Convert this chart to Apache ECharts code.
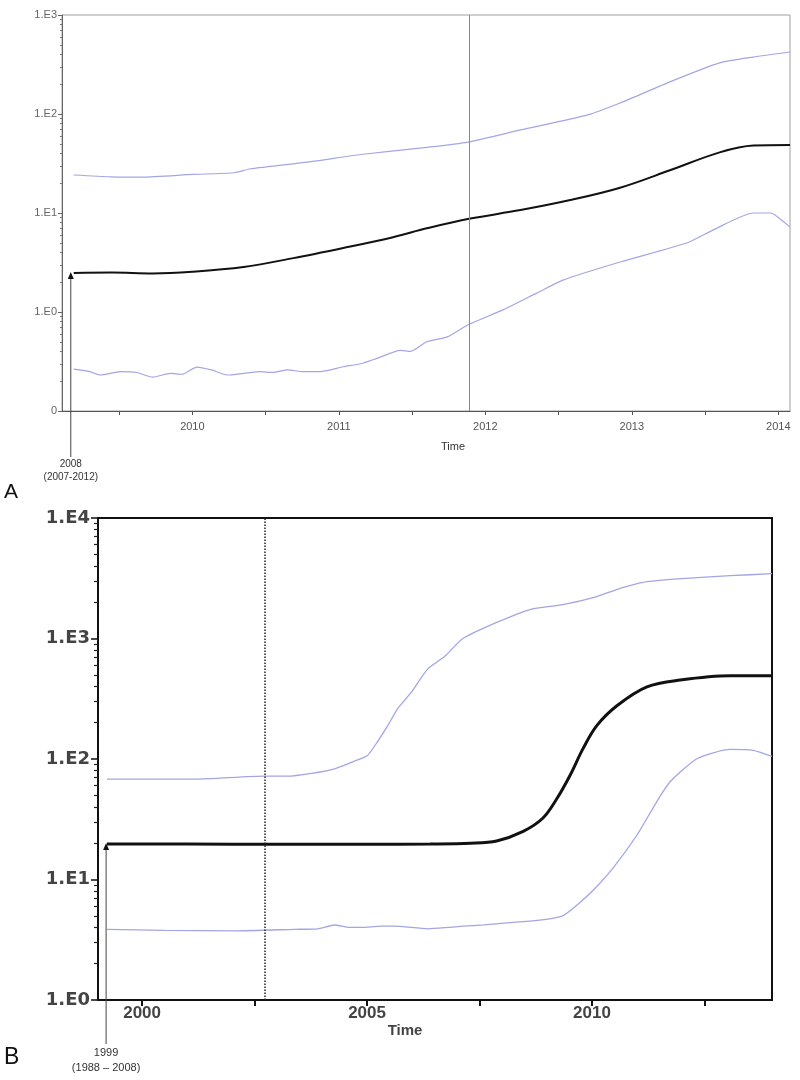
<!DOCTYPE html>
<html><head><meta charset="utf-8">
<script src="https://cdn.jsdelivr.net/npm/echarts@6/dist/echarts.min.js"></script>
<style>html,body{margin:0;padding:0;background:#fff}#c{width:800px;height:1080px}</style>
</head><body><div id="c"></div>
<script>
// ---------- Panel A data ----------
const aMeanT  = [2009.19,2009.45,2009.73,2010.0,2010.35,2010.69,2011.03,2011.37,2011.6,2011.88,2012.24,2012.58,2012.92,2013.26,2013.6,2013.83,2014.08];
const aMeanV  = [2.48,2.5,2.45,2.55,2.85,3.5,4.43,5.7,7.0,8.7,10.7,13.5,18,27,41,48,48.6];
const aUpperT = [2009.19,2009.44,2009.66,2010.0,2010.28,2010.4,2010.81,2011.15,2011.6,2011.88,2012.24,2012.7,2012.92,2013.26,2013.6,2013.83,2014.08];
const aUpperV = [24.2,23.2,23,24.5,25.5,28,33,39,46,52,69,98,129,211,328,376,423];
const aLowerT = [2009.19,2009.3,2009.37,2009.51,2009.62,2009.73,2009.85,2009.93,2010.03,2010.13,2010.24,2010.35,2010.46,2010.55,2010.65,2010.75,2010.87,2011.03,2011.15,2011.26,2011.42,2011.49,2011.6,2011.74,2011.88,2012.12,2012.35,2012.53,2012.92,2013.38,2013.56,2013.83,2013.95,2014.03,2014.08];
const aLowerV = [0.265,0.25,0.231,0.25,0.245,0.22,0.24,0.235,0.278,0.26,0.231,0.24,0.25,0.245,0.26,0.25,0.25,0.28,0.3,0.34,0.41,0.40,0.5,0.56,0.74,1.05,1.55,2.1,3.2,5.0,6.8,10,10,8.3,7.2];
const aXTicks  = [2009.5,2010,2010.5,2011,2011.5,2012,2012.5,2013,2013.5,2014];
const aXLabels = [2010,2011,2012,2013,2014];
const aYMajor  = [0.1,1,10,100,1000];
const aMarker  = [2009.17, 2.48];
const aMarkerLabel = '2008\n(2007-2012)';
const aDivider = 2011.89;

// ---------- Panel B data ----------
const bMeanT  = [1999.22,2001,2003,2005,2006.4,2007.3,2007.88,2008.47,2008.91,2009.22,2009.51,2009.8,2010.11,2010.56,2011.22,2011.96,2013.07,2014.0];
const bMeanV  = [19.7,19.7,19.6,19.6,19.7,20,20.9,25.1,32.4,47,73,122,190,278,397,452,490,490];
const bUpperT = [1999.22,2001.16,2002.72,2003.23,2003.76,2004.28,2004.72,2005.01,2005.23,2005.46,2005.68,2005.99,2006.35,2006.73,2007.13,2007.88,2008.62,2009.35,2010.11,2010.56,2011.22,2012.34,2013.07,2014.0];
const bUpperV = [68,68,72,72,76,83,96,107,139,189,262,361,560,713,1000,1360,1740,1910,2230,2560,2960,3200,3320,3450];
const bLowerT = [1999.22,2000.5,2002.05,2003.39,2003.9,2004.28,2004.6,2004.88,2005.3,2005.61,2006.35,2006.8,2007.13,2007.6,2008.24,2008.84,2009.35,2009.66,2010.02,2010.47,2011.0,2011.45,2011.74,2012.34,2013.07,2013.58,2014.0];
const bLowerV = [3.86,3.78,3.75,3.86,3.9,4.19,4.0,4.0,4.1,4.1,3.9,4.0,4.1,4.2,4.4,4.6,5.0,6.1,8.1,12.5,23.4,45,65,101,120,118,105];
const bXTicks  = [2000,2002.5,2005,2007.5,2010,2012.5];
const bXLabels = [2000,2005,2010];
const bYMajor  = [1,10,100,1000,10000];
const bMarker  = [1999.2, 19.7];
const bMarkerLabel = '1999\n(1988 – 2008)';
const bDivider = 2002.72;

// ---------- helpers ----------
const pairs = (T, V) => T.map((t, i) => [t, V[i]]);
const minorLog = (major) => { const out = []; for (let i = 0; i < major.length - 1; i++) for (let k = 2; k <= 9; k++) out.push(major[i] * k); return out; };
const FONT = 'Liberation Sans';
const BLUE = '#a2a6e4';

function markerSeries(xi, yi, pt, label, fontSize, below, lh) {
  return {
    type: 'custom', xAxisIndex: xi, yAxisIndex: yi, clip: false, silent: true, z: 5,
    data: [pt], encode: {x: 0, y: 1},
    renderItem: function (params, api) {
      const p = api.coord([api.value(0), api.value(1)]);
      const cs = params.coordSys;
      const yb = cs.y + cs.height + below;
      return {type: 'group', children: [
        {type: 'line', shape: {x1: p[0], y1: yb, x2: p[0], y2: p[1] + 5}, style: {stroke: '#444', lineWidth: 1}},
        {type: 'polygon', shape: {points: [[p[0], p[1] - 1], [p[0] - 3, p[1] + 6], [p[0] + 3, p[1] + 6]]}, style: {fill: '#111'}},
        {type: 'text', style: {text: label, x: p[0], y: yb + 1, align: 'center', verticalAlign: 'top', fontSize: fontSize, lineHeight: lh, fill: '#333', fontFamily: FONT}}
      ]};
    }
  };
}

const chart = echarts.init(document.getElementById('c'), null, {renderer: 'canvas'});
chart.setOption({
  animation: false,
  backgroundColor: '#fff',
  graphic: [
    {type: 'text', left: 4, top: 482, style: {text: 'A', fontSize: 21, fill: '#111', fontFamily: FONT}},
    {type: 'text', left: 4, top: 1046, style: {text: 'B', fontSize: 23, fill: '#111', fontFamily: FONT}}
  ],
  grid: [
    {left: 62, top: 15, width: 728, height: 396, show: true, borderColor: '#a0a0a0', borderWidth: 1, containLabel: false},
    {left: 98, top: 518, width: 674, height: 482, show: true, borderColor: '#111', borderWidth: 2, containLabel: false}
  ],
  xAxis: [
    {type: 'value', gridIndex: 0, min: 2009.11, max: 2014.08, splitLine: {show: false},
     axisLine: {lineStyle: {color: '#555', width: 1}},
     axisTick: {customValues: aXTicks, length: 4, lineStyle: {color: '#555'}},
     axisLabel: {customValues: aXLabels, formatter: v => String(Math.round(v)), fontSize: 11, color: '#555', margin: 10, fontFamily: FONT},
     name: 'Time', nameLocation: 'middle', nameGap: 30,
     nameTextStyle: {fontSize: 11, color: '#333', fontFamily: FONT, padding: [0, 0, 0, 54]}},
    {type: 'value', gridIndex: 1, min: 1999.02, max: 2014.0, splitLine: {show: false},
     axisLine: {lineStyle: {color: '#111', width: 2}},
     axisTick: {customValues: bXTicks, length: 6, lineStyle: {color: '#111', width: 2}},
     axisLabel: {customValues: bXLabels, formatter: v => String(Math.round(v)), fontSize: 17, fontWeight: 'bold', color: '#444', margin: 5, fontFamily: FONT},
     name: 'Time', nameLocation: 'middle', nameGap: 21,
     nameTextStyle: {fontSize: 15, fontWeight: 'bold', color: '#444', fontFamily: FONT, padding: [0, 60, 0, 0]}}
  ],
  yAxis: [
    {type: 'log', logBase: 10, gridIndex: 0, position: 'left', min: 0.1, max: 1000, splitLine: {show: false},
     axisLine: {show: true, lineStyle: {color: '#666'}},
     axisTick: {customValues: aYMajor, length: 4, lineStyle: {color: '#666'}},
     axisLabel: {customValues: aYMajor, formatter: v => v < 0.5 ? '0' : '1.E' + Math.round(Math.log10(v)), fontSize: 11, color: '#666', margin: 5, fontFamily: FONT}},
    {type: 'log', logBase: 10, gridIndex: 0, position: 'left', offset: 0, min: 0.1, max: 1000, splitLine: {show: false},
     axisLine: {show: false}, axisLabel: {show: false},
     axisTick: {customValues: minorLog(aYMajor), length: 2, lineStyle: {color: '#777'}}},
    {type: 'log', logBase: 10, gridIndex: 1, position: 'left', min: 1, max: 10000, splitLine: {show: false},
     axisLine: {show: true, lineStyle: {color: '#111', width: 2}},
     axisTick: {customValues: bYMajor, length: 7, lineStyle: {color: '#111', width: 1.5}},
     axisLabel: {customValues: bYMajor, formatter: v => '1.E' + Math.round(Math.log10(v)), fontSize: 18, fontWeight: 'bold', color: '#444', margin: 8, fontFamily: 'DejaVu Sans'}},
    {type: 'log', logBase: 10, gridIndex: 1, position: 'left', offset: 0, min: 1, max: 10000, splitLine: {show: false},
     axisLine: {show: false}, axisLabel: {show: false},
     axisTick: {customValues: minorLog(bYMajor), length: 4, lineStyle: {color: '#222', width: 1.2}}}
  ],
  series: [
    {type: 'line', xAxisIndex: 0, yAxisIndex: 0, data: pairs(aUpperT, aUpperV), showSymbol: false, smooth: 0.2, lineStyle: {color: BLUE, width: 1.2}, z: 2},
    {type: 'line', xAxisIndex: 0, yAxisIndex: 0, data: pairs(aLowerT, aLowerV), showSymbol: false, smooth: 0.2, lineStyle: {color: BLUE, width: 1.2}, z: 2},
    {type: 'line', xAxisIndex: 0, yAxisIndex: 0, data: pairs(aMeanT, aMeanV), showSymbol: false, smooth: 0.35, lineStyle: {color: '#111', width: 2}, z: 3,
     markLine: {silent: true, symbol: 'none', label: {show: false}, lineStyle: {color: '#7f8b9c', width: 1, type: 'solid'}, data: [{xAxis: aDivider}]}},
    {type: 'line', xAxisIndex: 1, yAxisIndex: 2, data: pairs(bUpperT, bUpperV), showSymbol: false, smooth: 0.2, lineStyle: {color: BLUE, width: 1.3}, z: 2},
    {type: 'line', xAxisIndex: 1, yAxisIndex: 2, data: pairs(bLowerT, bLowerV), showSymbol: false, smooth: 0.2, lineStyle: {color: BLUE, width: 1.3}, z: 2},
    {type: 'line', xAxisIndex: 1, yAxisIndex: 2, data: pairs(bMeanT, bMeanV), showSymbol: false, smooth: 0.35, lineStyle: {color: '#111', width: 3}, z: 3,
     markLine: {silent: true, symbol: 'none', label: {show: false}, lineStyle: {color: '#222', width: 1.5, type: 'dotted'}, data: [{xAxis: bDivider}]}},
    markerSeries(0, 0, aMarker, aMarkerLabel, 10, 46, 13),
    markerSeries(1, 2, bMarker, bMarkerLabel, 11, 44, 15)
  ]
});
</script></body></html>
